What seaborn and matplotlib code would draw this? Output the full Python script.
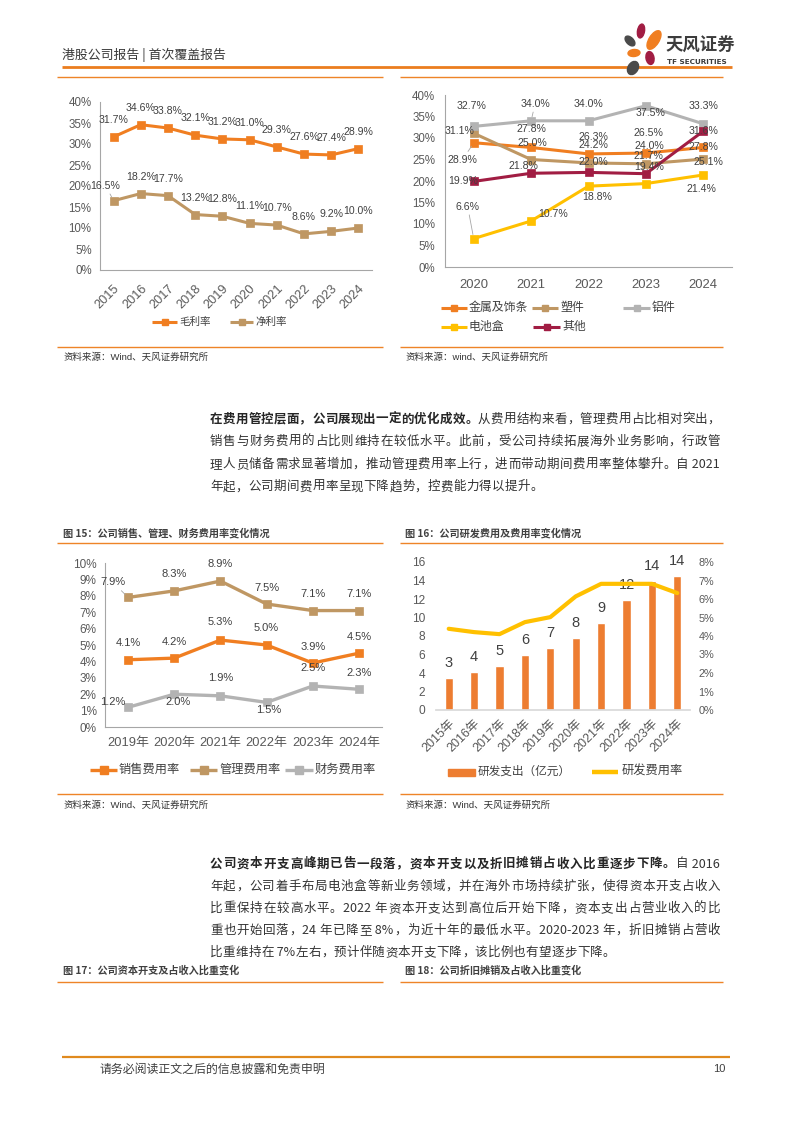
import numpy as np
import pandas as pd
import matplotlib
matplotlib.use('Agg')
import matplotlib.pyplot as plt
import seaborn as sns
from matplotlib.patches import Ellipse, Rectangle

# ---------------- data ----------------
years1 = ['2015', '2016', '2017', '2018', '2019', '2020', '2021', '2022', '2023', '2024']
gross_margin = [31.7, 34.6, 33.8, 32.1, 31.2, 31.0, 29.3, 27.6, 27.4, 28.9]
net_margin = [16.5, 18.2, 17.7, 13.2, 12.8, 11.1, 10.7, 8.6, 9.2, 10.0]

years2 = ['2020', '2021', '2022', '2023', '2024']
seg_metal = [28.9, 27.8, 26.3, 26.5, 27.8]
seg_plastic = [31.1, 25.0, 24.2, 24.0, 25.1]
seg_alu = [32.7, 34.0, 34.0, 37.5, 33.3]
seg_battery = [6.6, 10.7, 18.8, 19.4, 21.4]
seg_other = [19.9, 21.8, 22.0, 21.7, 31.6]

years3 = ['2019年', '2020年', '2021年', '2022年', '2023年', '2024年']
sales_rate = [4.1, 4.2, 5.3, 5.0, 3.9, 4.5]
admin_rate = [7.9, 8.3, 8.9, 7.5, 7.1, 7.1]
fin_rate = [1.2, 2.0, 1.9, 1.5, 2.5, 2.3]

years4 = ['2015年', '2016年', '2017年', '2018年', '2019年', '2020年', '2021年', '2022年', '2023年', '2024年']
rd_spend = [3.43, 4.08, 4.73, 5.99, 6.68, 7.76, 9.45, 11.84, 14.0, 14.45]
rd_rate = [4.39, 4.21, 4.10, 4.75, 5.02, 6.14, 6.82, 6.82, 6.82, 6.32]

# ---------------- style ----------------
sns.set_theme(style='white')
plt.rcParams['font.family'] = ['Liberation Sans', 'Noto Sans CJK SC', 'DejaVu Sans']
plt.rcParams['axes.unicode_minus'] = False
BODY = ['Noto Sans CJK SC', 'DejaVu Sans']

C_OR = '#F07E21'
C_TAN = '#BF9763'
C_GRAY = '#B3B3B3'
C_YEL = '#FFC000'
C_RED = '#A11D43'
C_BAR = '#ED7D31'
C_LINE = '#EE8428'
C_TXT = '#404040'
C_TICK = '#595959'
C_AX = '#A6A6A6'

W, H = 794, 1123
fig = plt.figure(figsize=(W / 100, H / 100), dpi=100)
fig.patch.set_facecolor('white')

ov = fig.add_axes([0, 0, 1, 1])
ov.set_xlim(0, W)
ov.set_ylim(H, 0)
ov.axis('off')
ov.set_autoscale_on(False)
renderer = fig.canvas.get_renderer()


def add_ax(x0, y0, x1, y1):
    return fig.add_axes([x0 / W, 1 - y1 / H, (x1 - x0) / W, (y1 - y0) / H])


def hline(x0, x1, y, color=C_LINE, lw=1.0):
    ov.plot([x0, x1], [y, y], color=color, lw=lw, solid_capstyle='butt')


def style_axes(ax, minor_bounds=None):
    for s in ['top', 'right']:
        ax.spines[s].set_visible(False)
    for s in ['left', 'bottom']:
        ax.spines[s].set_color(C_AX)
        ax.spines[s].set_linewidth(0.8)
    ax.set_xlabel('')
    ax.set_ylabel('')
    ax.tick_params(axis='both', which='major', length=0, colors=C_TICK)
    if minor_bounds is not None:
        ax.set_xticks(minor_bounds, minor=True)
        ax.tick_params(axis='x', which='minor', length=4, color=C_AX, width=0.8, direction='out')
    ax.set_facecolor('none')


def line(ax, xs, ys, color, lw=2.2, ms=5.5):
    sns.lineplot(x=xs, y=ys, ax=ax, color=color, linewidth=lw, marker='s',
                 markersize=ms, markeredgecolor=color, markeredgewidth=0.5)
    l = ax.lines[-1]
    l.set_markeredgecolor(color)
    l.set_markerfacecolor(color)


def labels(ax, xs, ys, offs, fs=7.6, fmt='{:.1f}%', leaders=()):
    for i, (xv, yv) in enumerate(zip(xs, ys)):
        dx, dy = offs[i]
        kw = {}
        if i in leaders:
            kw['arrowprops'] = dict(arrowstyle='-', color=C_AX, lw=0.6, shrinkA=0, shrinkB=3)
        ax.annotate(fmt.format(yv), xy=(xv, yv), xytext=(dx * 0.72, dy * 0.72),
                    textcoords='offset points', ha='center', va='center',
                    fontsize=fs, color=C_TXT, **kw)


def leg_item(x0, x1, y, color, label, fs, lw=2.2, marker=True, ms=5):
    ov.plot([x0, x1], [y, y], color=color, lw=lw, solid_capstyle='butt')
    if marker:
        ov.plot([(x0 + x1) / 2], [y], marker='s', color=color, ms=ms, mec=color)
    ov.text(x1 + 2, y, label, fontsize=fs, va='center', ha='left', color=C_TXT)


# ---------------- header ----------------
ov.text(62, 55, '港股公司报告 | 首次覆盖报告', fontsize=9.3, color='#3A3A3A', va='center', ha='left', family=BODY)
hline(62, 732, 66.5, color='#EB7D1E', lw=2.0)
hline(57, 383, 77)
hline(400, 723, 77)
# logo petals: (center, long axis, short axis, visual angle of long axis, colour)
petals = [((641, 31), 14, 7, 80, C_RED), ((654, 40), 21, 10, 58, C_OR), ((630, 41), 12, 7, 135, '#4A4A4A'),
          ((634, 53), 12, 7, 5, C_OR), ((650, 58), 13, 8, 100, C_RED), ((633, 68), 14, 10, 60, '#4A4A4A')]
for (cx, cy), w_, h_, ang, col in petals:
    ov.add_patch(Ellipse((cx, cy), w_, h_, angle=-ang, color=col, zorder=3))
ov.text(666, 46, '天风证券', fontsize=12.5, weight='bold', color='#3C3C3C', va='center', ha='left', family=BODY)
ov.text(667, 62, 'TF SECURITIES', fontsize=5.2, weight='bold', color='#3C3C3C', va='center', ha='left',
        family=['DejaVu Sans'])

# ---------------- chart 1 ----------------
ax1 = add_ax(100, 102, 372, 270)
x1 = np.arange(len(years1))
line(ax1, x1, gross_margin, C_OR)
line(ax1, x1, net_margin, C_TAN)
ax1.set_xlim(-0.5, 9.5)
ax1.set_ylim(0, 40)
ax1.set_yticks(range(0, 41, 5))
ax1.set_yticklabels([f'{v}%' for v in range(0, 41, 5)], fontsize=8.3)
ax1.set_xticks(x1)
ax1.set_xticklabels(years1, rotation=45, ha='right', rotation_mode='anchor', fontsize=9.2)
style_axes(ax1, np.arange(-0.5, 10, 1))
ax1.tick_params(axis='y', pad=6)
ax1.tick_params(axis='x', which='major', pad=9)
labels(ax1, x1, gross_margin, [(0, 17)] * 10)
labels(ax1, x1, net_margin, [(-8, 15)] + [(0, 17)] * 9, leaders=(0,))
leg_item(152, 177, 322, C_OR, '毛利率', 7.6)
leg_item(230, 253, 322, C_TAN, '净利率', 7.6)
hline(57, 383, 347)
ov.text(64, 357, '资料来源：Wind、天风证券研究所', fontsize=6.8, color='#333333', va='center', ha='left')

# ---------------- chart 2 ----------------
ax2 = add_ax(445, 95, 732, 267)
x2 = np.arange(len(years2))
line(ax2, x2, seg_metal, C_OR)
line(ax2, x2, seg_plastic, C_TAN)
line(ax2, x2, seg_alu, C_GRAY)
line(ax2, x2, seg_battery, C_YEL)
line(ax2, x2, seg_other, C_RED)
ax2.set_xlim(-0.5, 4.5)
ax2.set_ylim(0, 40)
ax2.set_yticks(range(0, 41, 5))
ax2.set_yticklabels([f'{v}%' for v in range(0, 41, 5)], fontsize=8.3)
ax2.set_xticks(x2)
ax2.set_xticklabels(years2, fontsize=9.4)
style_axes(ax2)
ax2.tick_params(axis='y', pad=7)
ax2.tick_params(axis='x', which='major', pad=9)
labels(ax2, x2, seg_alu, [(-2, 20), (4, 17), (0, 17), (5, -7), (0, 18)], leaders=(1,))
labels(ax2, x2, seg_metal, [(-11, -17), (0, 18), (5, 17), (3, 20), (0, 0)], leaders=(0,))
labels(ax2, x2, seg_plastic, [(-14, 2), (1, 16), (5, 18), (3, 18), (5, -3)])
labels(ax2, x2, seg_other, [(-11, 0), (-8, 7), (5, 10), (3, 18), (0, 0)])
labels(ax2, x2, seg_battery, [(-6, 32), (22, 7), (9, -11), (3, 17), (-2, -14)], leaders=(0,))
leg_item(441, 467, 308, C_OR, '金属及饰条', 8.6)
leg_item(532, 558, 308, C_TAN, '塑件', 8.6)
leg_item(623, 650, 308, C_GRAY, '铝件', 8.6)
leg_item(441, 467, 327, C_YEL, '电池盒', 8.6)
leg_item(533, 560, 327, C_RED, '其他', 8.6)
hline(400, 723, 347)
ov.text(405, 357, '资料来源：wind、天风证券研究所', fontsize=6.8, color='#333333', va='center', ha='left')

# ---------------- paragraph helper ----------------
def tokenize(s):
    toks, buf = [], ''
    for ch in s:
        if ord(ch) < 128:
            buf += ch
        else:
            if buf:
                toks.append(buf)
                buf = ''
            toks.append(ch)
    if buf:
        toks.append(buf)
    return toks


def draw_line(segs, x0, x1, yc, justify=True, fs=9):
    items = []
    for s, w in segs:
        for t in tokenize(s):
            items.append((t, w))
    widths = []
    for t, w in items:
        tt = ov.text(0, 0, t, fontsize=fs, weight=w, family=BODY)
        widths.append(tt.get_window_extent(renderer).width)
        tt.remove()
    n = len(items)
    gap = (x1 - x0 - sum(widths)) / (n - 1) if justify else 0.3
    x = x0
    for (t, w), wd in zip(items, widths):
        ov.text(x, yc + 4.5, t, fontsize=fs, weight=w, family=BODY, va='baseline', ha='left',
                color='#262626' if w == 'bold' else '#333333')
        x += wd + gap


P1 = [
    [('在费用管控层面，公司展现出一定的优化成效。', 'bold'), ('从费用结构来看，管理费用占比相对突出，', 'normal')],
    [('销售与财务费用的占比则维持在较低水平。此前，受公司持续拓展海外业务影响，行政管', 'normal')],
    [('理人员储备需求显著增加，推动管理费用率上行，进而带动期间费用率整体攀升。自 2021', 'normal')],
    [('年起，公司期间费用率呈现下降趋势，控费能力得以提升。', 'normal')],
]
for i, segs in enumerate(P1):
    draw_line(segs, 210, 720, 418 + i * 22.6, justify=(i < len(P1) - 1))

P2 = [
    [('公司资本开支高峰期已告一段落，资本开支以及折旧摊销占收入比重逐步下降。', 'bold'), ('自 2016', 'normal')],
    [('年起，公司着手布局电池盒等新业务领域，并在海外市场持续扩张，使得资本开支占收入', 'normal')],
    [('比重保持在较高水平。2022 年资本开支达到高位后开始下降，资本支出占营业收入的比', 'normal')],
    [('重也开始回落，24 年已降至 8%，为近十年的最低水平。2020-2023 年，折旧摊销占营收', 'normal')],
    [('比重维持在 7%左右，预计伴随资本开支下降，该比例也有望逐步下降。', 'normal')],
]
for i, segs in enumerate(P2):
    draw_line(segs, 210, 720, 863 + i * 22.1, justify=(i < len(P2) - 1))

# ---------------- chart 3 ----------------
ov.text(63, 533, '图 15：公司销售、管理、财务费用率变化情况', fontsize=7.3, weight='bold', color=C_TXT,
        va='center', ha='left', family=BODY)
hline(57, 383, 543)
ax3 = add_ax(105, 563, 382, 727)
x3 = np.arange(len(years3))
line(ax3, x3, sales_rate, C_OR, lw=2.4, ms=6)
line(ax3, x3, admin_rate, C_TAN, lw=2.4, ms=6)
line(ax3, x3, fin_rate, C_GRAY, lw=2.4, ms=6)
ax3.set_xlim(-0.5, 5.5)
ax3.set_ylim(0, 10)
ax3.set_yticks(range(0, 11))
ax3.set_yticklabels([f'{v}%' for v in range(0, 11)], fontsize=8.5)
ax3.set_xticks(x3)
ax3.set_xticklabels(years3, fontsize=9.3)
style_axes(ax3)
ax3.tick_params(axis='y', pad=6)
ax3.tick_params(axis='x', which='major', pad=7)
labels(ax3, x3, admin_rate, [(-15, 15), (0, 17), (0, 17), (0, 16), (0, 17), (0, 17)], fs=8, leaders=(0,))
labels(ax3, x3, sales_rate, [(0, 17), (0, 16), (0, 18), (0, 17), (0, 16), (0, 16)], fs=8)
labels(ax3, x3, fin_rate, [(-15, 5), (4, -8), (0, 18), (2, -8), (0, 18), (0, 16)], fs=8)
leg_item(90, 117, 770, C_OR, '销售费用率', 8.8, lw=2.4, ms=5.5)
leg_item(190, 217, 770, C_TAN, '管理费用率', 8.8, lw=2.4, ms=5.5)
leg_item(285, 313, 770, C_GRAY, '财务费用率', 8.8, lw=2.4, ms=5.5)
hline(57, 383, 794)
ov.text(64, 805, '资料来源：Wind、天风证券研究所', fontsize=6.8, color='#333333', va='center', ha='left')

# ---------------- chart 4 ----------------
ov.text(405, 533, '图 16：公司研发费用及费用率变化情况', fontsize=7.3, weight='bold', color=C_TXT,
        va='center', ha='left', family=BODY)
hline(400, 723, 543)
ax4 = add_ax(436, 562, 690, 710)
df4 = pd.DataFrame({'year': years4, 'rd': rd_spend})
sns.barplot(data=df4, x='year', y='rd', color=C_BAR, saturation=1, width=0.33, ax=ax4)
ax4.set_ylim(0, 16)
ax4.set_yticks(range(0, 17, 2))
ax4.set_yticklabels([str(v) for v in range(0, 17, 2)], fontsize=8.6)
ax4.set_xticks(range(len(years4)))
ax4.set_xticklabels(years4, rotation=45, ha='right', rotation_mode='anchor', fontsize=9)
for i, v in enumerate(rd_spend):
    ax4.annotate(f'{v:.0f}', xy=(i, v), xytext=(0, 15 * 0.72), textcoords='offset points',
                 ha='center', va='center', fontsize=10.5, color=C_TXT)
ax4b = ax4.twinx()
sns.lineplot(x=np.arange(len(years4)), y=rd_rate, ax=ax4b, color=C_YEL, linewidth=3)
ax4b.set_ylim(0, 8)
ax4b.set_yticks(range(0, 9))
ax4b.set_yticklabels([f'{v}%' for v in range(0, 9)], fontsize=7.8)
ax4.set_xlim(-0.5, 9.5)
for a in (ax4, ax4b):
    for s in a.spines.values():
        s.set_visible(False)
    a.set_xlabel('')
    a.set_ylabel('')
    a.tick_params(axis='both', length=0, colors=C_TICK)
    a.set_facecolor('none')
ax4.spines['bottom'].set_visible(True)
ax4.spines['bottom'].set_color('#D9D9D9')
ax4.tick_params(axis='y', pad=8)
ax4.tick_params(axis='x', pad=5)
ax4b.tick_params(axis='y', pad=6)
ov.add_patch(Rectangle((448, 768.5), 27, 7, color=C_BAR))
ov.text(478, 772, '研发支出（亿元）', fontsize=8.4, va='center', ha='left', color=C_TXT)
ov.plot([592, 618], [772, 772], color=C_YEL, lw=3.2, solid_capstyle='butt')
ov.text(622, 772, '研发费用率', fontsize=8.8, va='center', ha='left', color=C_TXT)
hline(400, 723, 794)
ov.text(405, 805, '资料来源：Wind、天风证券研究所', fontsize=6.8, color='#333333', va='center', ha='left')

# ---------------- figure 17/18 titles ----------------
ov.text(63, 970, '图 17：公司资本开支及占收入比重变化', fontsize=7.3, weight='bold', color=C_TXT,
        va='center', ha='left', family=BODY)
ov.text(405, 970, '图 18：公司折旧摊销及占收入比重变化', fontsize=7.3, weight='bold', color=C_TXT,
        va='center', ha='left', family=BODY)
hline(57, 383, 982)
hline(400, 723, 982)

# ---------------- footer ----------------
hline(62, 730, 1057, color='#E08A1E', lw=1.6)
ov.text(100, 1069, '请务必阅读正文之后的信息披露和免责申明', fontsize=8.6, color='#404040', va='center', ha='left',
        family=BODY)
ov.text(725, 1069, '10', fontsize=8, color='#404040', va='center', ha='right')

fig.savefig('out.png', dpi=100, facecolor='white')
